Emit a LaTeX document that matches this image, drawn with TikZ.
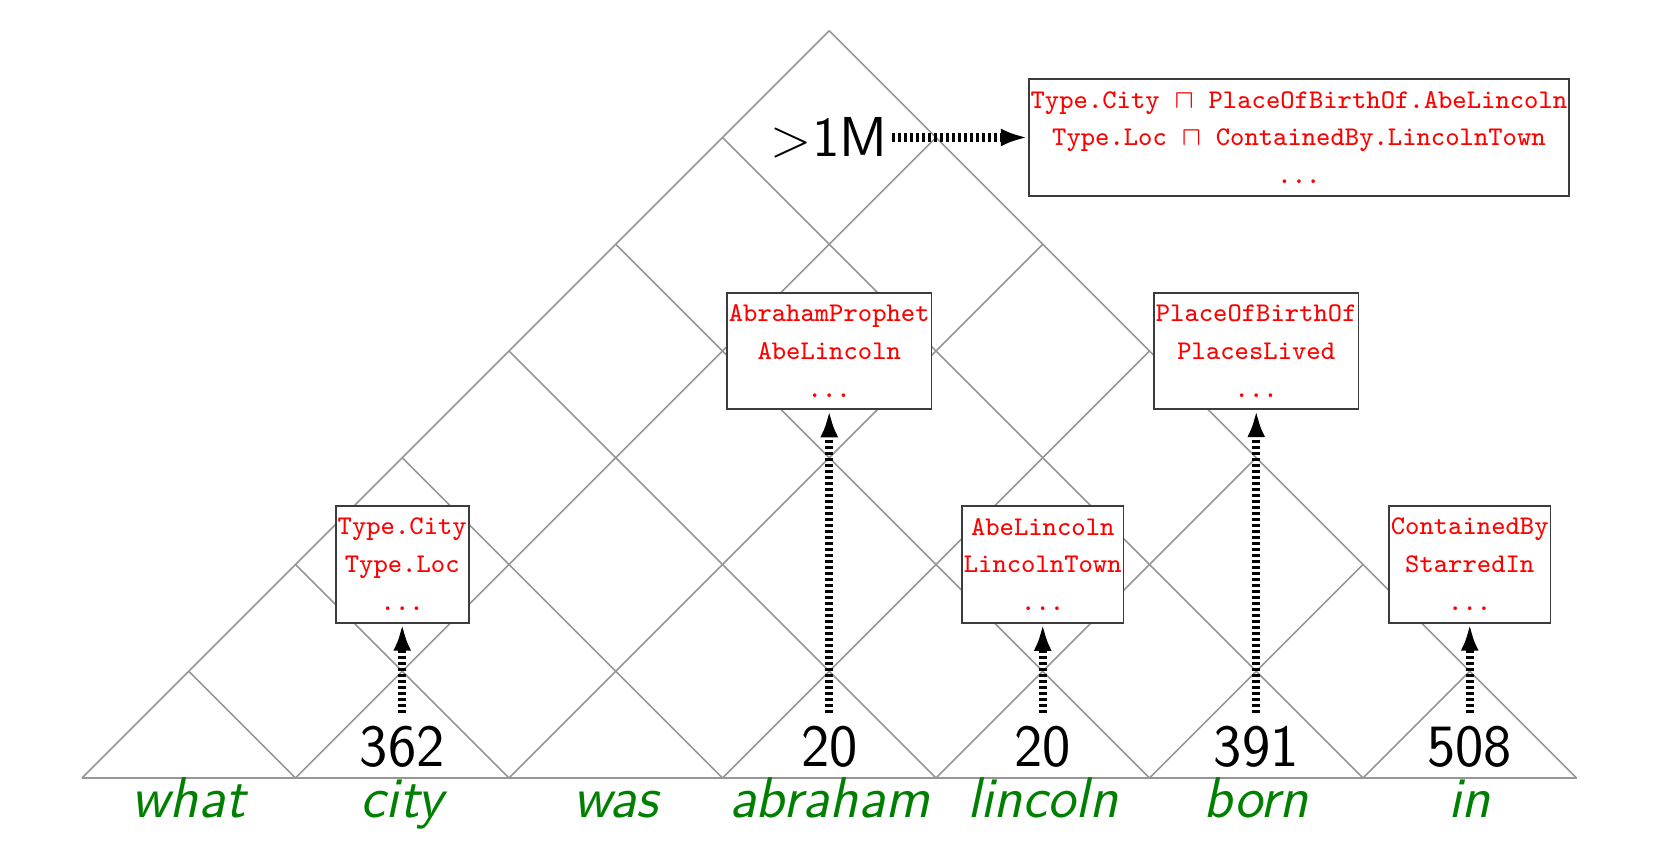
\documentclass[tikz,border=0pt]{standalone}
\usepackage{xcolor}
\usepackage{tikz}
\usetikzlibrary{arrows.meta}
\definecolor{WordGreen}{RGB}{0,128,0}
\definecolor{FormRed}{RGB}{255,0,0}
\definecolor{ChartGray}{RGB}{150,150,150}
\definecolor{BoxGray}{RGB}{60,60,60}

\begin{document}
\begin{tikzpicture}[
  chart/.style={draw=ChartGray, line width=0.4pt},
  word/.style={font=\fontsize{15.3}{18}\selectfont\sffamily\itshape, text=WordGreen, anchor=base},
  count/.style={font=\fontsize{16}{19}\selectfont\sffamily, anchor=base},
  forms/.style={draw=BoxGray, fill=white, line width=0.5pt, font=\fontsize{7.2}{10.1}\selectfont\ttfamily, text=FormRed, align=center, inner xsep=0.5pt, inner ysep=3.2pt},
  arrow/.style={-{Latex[length=7.2pt, width=4.8pt]}, line width=2.2pt, dash pattern=on 0.8pt off 0.8pt}
]
\useasboundingbox (-0.768,-0.712) rectangle (14.82,7.288);

% Chart lattice
\draw[chart] (0,0) -- (14,0);
\foreach \k in {0,...,7} {
  \draw[chart] (2*\k,0) -- (7+\k,7-\k);
  \draw[chart] (2*\k,0) -- (\k,\k);
}

% Words
\foreach \w [count=\i] in {what,city,was,abraham,lincoln,born,in}
  \node[word] (w\i) at (2*\i-1,-0.37) {\w};

% Counts
\node[count] (n2) at (3,0.11) {362};
\node[count] (n4) at (7,0.11) {20};
\node[count] (n5) at (9,0.11) {20};
\node[count] (n6) at (11,0.11) {391};
\node[count] (n7) at (13,0.11) {508};
\node[font=\fontsize{15}{18}\selectfont\sffamily, inner sep=1pt] (top) at (7,6) {$>$1M};

% Logical forms
\node[forms] (f2) at (3,2) {Type.City\\Type.Loc\\...};
\node[forms] (f4) at (7,4) {AbrahamProphet\\AbeLincoln\\...};
\node[forms] (f5) at (9,2) {AbeLincoln\\LincolnTown\\...};
\node[forms] (f6) at (11,4) {PlaceOfBirthOf\\PlacesLived\\...};
\node[forms] (f7) at (13,2) {ContainedBy\\StarredIn\\...};
\node[forms] (ftop) at (11.4,6) {Type.City $\sqcap$ PlaceOfBirthOf.AbeLincoln\\Type.Loc $\sqcap$ ContainedBy.LincolnTown\\...};

% Arrows: counts -> forms
\draw[arrow] (n2) -- (f2);
\draw[arrow] (n4) -- (f4);
\draw[arrow] (n5) -- (f5);
\draw[arrow] (n6) -- (f6);
\draw[arrow] (n7) -- (f7);
\draw[arrow] (top) -- (ftop);
\end{tikzpicture}
\end{document}
